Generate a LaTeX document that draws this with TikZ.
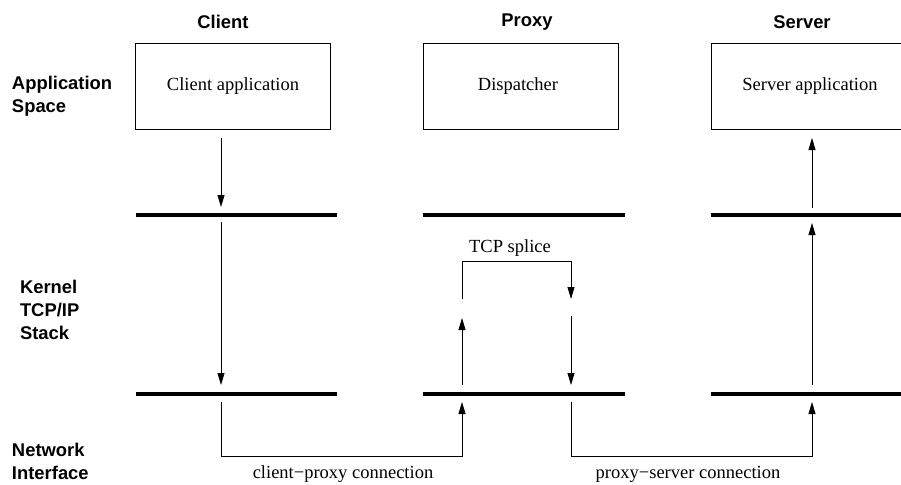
\documentclass[tikz,border=0pt]{standalone}
\usepackage{fontspec}
\setmainfont{Liberation Serif}
\newfontfamily\headfont{Liberation Sans}
\usetikzlibrary{arrows.meta}
\begin{document}
\begin{tikzpicture}[x=1pt,y=-1pt,
  every node/.style={inner sep=0pt,outer sep=0pt},
  head/.style={font=\headfont\bfseries\fontsize{18.4}{23}\selectfont},
  side/.style={head,anchor=west,align=left},
  lbl/.style={font=\fontsize{18.5}{23}\selectfont},
  appbox/.style={draw,line width=0.9pt,minimum width=195pt,minimum height=86pt,anchor=north west},
  layer/.style={fill=black,minimum height=4.6pt,anchor=west},
  flow/.style={line width=0.8pt,-{Triangle[length=12pt,width=7pt]}},
  wire/.style={line width=0.8pt}]
\useasboundingbox (0,0) rectangle (901,484);

% column headings
\node[head] (hclient) at (223,22) {Client};
\node[head] (hproxy)  at (527,22) {Proxy};
\node[head] (hserver) at (802,22) {Server};

% layer headings
\node[side] (lapp) at (12,96)  {Application\\Space};
\node[side] (lker) at (20,310) {Kernel\\TCP/IP\\Stack};
\node[side] (lnet) at (12,461) {Network\\Interface};

% application boxes
\node[appbox] (capp) at (135,43) {};
\node[lbl] at (233,86) {Client application};
\node[appbox] (disp) at (423,43) {};
\node[lbl] at (518,86) {Dispatcher};
\node[appbox] (sapp) at (711,43) {};
\node[lbl] at (810,86) {Server application};

% socket layer and network interface layer bars
\node[layer,minimum width=201pt] (cs) at (136,215) {};
\node[layer,minimum width=202pt] (ps) at (423,215) {};
\node[layer,minimum width=202pt] (ss) at (711,215) {};
\node[layer,minimum width=201pt] (cn) at (136,394) {};
\node[layer,minimum width=202pt] (pn) at (423,394) {};
\node[layer,minimum width=202pt] (sn) at (711,394) {};

% client side
\coordinate (c1) at (221,138);
\coordinate (c2) at (221,207);
\coordinate (c3) at (221,222);
\coordinate (c4) at (221,385);
\coordinate (c5) at (221,402);
\draw[flow] (c1) -- (c2);
\draw[flow] (c3) -- (c4);

% proxy: TCP splice
\coordinate (p1) at (462,385);
\coordinate (p2) at (462,318);
\coordinate (p3) at (462,299);
\coordinate (p4) at (571,299);
\coordinate (p5) at (571,316);
\coordinate (p6) at (571,385);
\coordinate (p7) at (571,402);
\coordinate (p8) at (462,402);
\draw[flow] (p1) -- (p2);
\draw[flow] (p3) -- (462,261) -- (571,261) -- (p4);
\draw[flow] (p5) -- (p6);
\node[lbl] (splice) at (510,248) {TCP splice};

% server side
\coordinate (s1) at (812,385);
\coordinate (s2) at (812,223);
\coordinate (s3) at (812,208);
\coordinate (s4) at (812,138);
\coordinate (s5) at (812,402);
\draw[flow] (s1) -- (s2);
\draw[flow] (s3) -- (s4);

% network connections
\draw[flow] (c5) -- (221,456) -- (462,456) -- (p8);
\draw[flow] (p7) -- (571,456) -- (812,456) -- (s5);
\node[lbl] (cpc) at (343,474) {client−proxy connection};
\node[lbl] (psc) at (688,474) {proxy−server connection};
\end{tikzpicture}
\end{document}
